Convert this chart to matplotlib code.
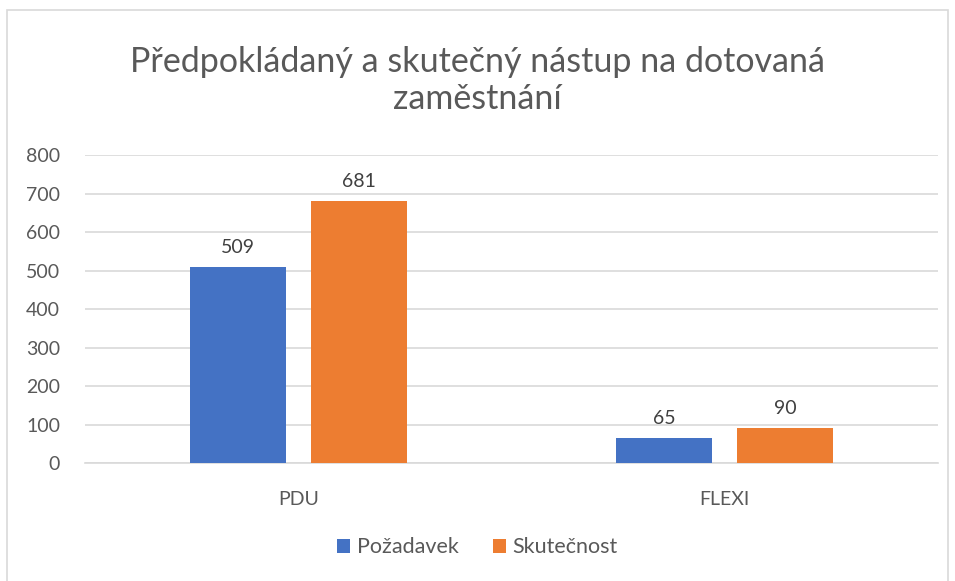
import numpy as np
import matplotlib
matplotlib.use("Agg")
import matplotlib.pyplot as plt
from matplotlib.patches import Rectangle

plt.rcParams["font.family"] = ["Lato", "DejaVu Sans"]

# Data
categories = ["PDU", "FLEXI"]
series_names = ["Požadavek", "Skutečnost"]
pozadavek = [509, 65]
skutecnost = [681, 90]
y_ticks = [0, 100, 200, 300, 400, 500, 600, 700, 800]

blue = "#4472C4"
orange = "#ED7D31"
text_col = "#595959"
grid_col = "#D9D9D9"

fig = plt.figure(figsize=(9.55, 5.81), dpi=100)
ax = fig.add_axes([0.089, 0.203, 0.893, 0.530])

# chart border
fig.patches.append(Rectangle((7 / 955, -0.05), 941 / 955, 1 - 10 / 581 + 0.05,
                             transform=fig.transFigure, fill=False,
                             edgecolor=grid_col, linewidth=1.2))

x = np.arange(len(categories))
w = 0.225
off = 0.142
b1 = ax.bar(x - off, pozadavek, w, color=blue, label=series_names[0], zorder=3)
b2 = ax.bar(x + off, skutecnost, w, color=orange, label=series_names[1], zorder=3)

for bars in (b1, b2):
    for r in bars:
        v = r.get_height()
        ax.annotate(f"{v:.0f}", (r.get_x() + r.get_width() / 2, v),
                    xytext=(0, 8), textcoords="offset points",
                    ha="center", va="bottom", fontsize=14, color="#404040")

ax.set_xlim(-0.5, 1.5)
ax.set_ylim(0, 800)
ax.set_yticks(y_ticks)
ax.set_xticks(x)
ax.set_xticklabels(categories)
ax.grid(axis="y", color=grid_col, linewidth=1.2, zorder=0)
ax.set_axisbelow(True)
for s in ["top", "right", "left"]:
    ax.spines[s].set_visible(False)
ax.spines["bottom"].set_color(grid_col)
ax.spines["bottom"].set_linewidth(1.2)
ax.tick_params(axis="both", length=0, labelsize=14, colors=text_col)
ax.tick_params(axis="y", pad=18)
ax.tick_params(axis="x", pad=20)

fig.text(0.5, 0.862, "Předpokládaný a skutečný nástup na dotovaná\nzaměstnání",
         ha="center", va="center", fontsize=24.5, color=text_col, linespacing=1.2)

fig.legend(loc="center", bbox_to_anchor=(0.5, 0.058), ncol=2, frameon=False,
           fontsize=15.5, labelcolor=text_col, handlelength=0.6, handleheight=0.6,
           handletextpad=0.3, columnspacing=1.6)

fig.savefig("out.png", dpi=100)
